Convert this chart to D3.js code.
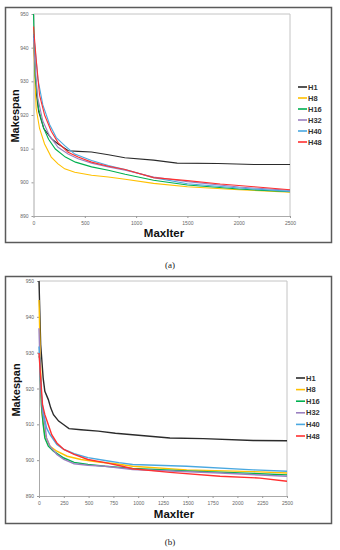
<!DOCTYPE html>
<html>
<head>
<meta charset="utf-8">
<script src="https://cdn.jsdelivr.net/npm/d3@7"></script>
<style>
  body { margin: 0; background: #fff; }
  .tick text { font-family: Arial, "Liberation Sans", sans-serif; font-size: 5px; fill: #666; }
  .tick line { stroke: #999; }
  .domain { stroke: #aaa; }
</style>
</head>
<body>
<div id="chart-area"></div>
<script>
// series names & colours
var names = ["H1", "H8", "H16", "H32", "H40", "H48"];
var colors = ["#2b2b2b", "#ffc000", "#00b050", "#9b80c0", "#4aa8e0", "#ff3030"];

// panel (a): [MaxIter, Makespan]
var aH1 = [[0,944],[25,927],[50,921],[100,916],[175,913],[240,911.4],[340,909.4],[435,909.2],[565,909],[730,908.2],[890,907.3],[1170,906.6],[1400,905.7],[1800,905.6],[2150,905.3],[2500,905.3]];
var aH8 = [[0,942],[26,922],[59,916],[108,911.4],[173,907.5],[239,905.5],[304,904],[402,903],[566,902.1],[729,901.6],[893,900.9],[1170,899.7],[1500,898.7],[2000,897.8],[2500,897.1]];
var aH16 = [[0,950],[16,931.7],[49,922],[98,916.2],[147,912.8],[213,909.9],[311,907.5],[409,906],[566,904.6],[729,903.6],[893,902.4],[1170,900.6],[1500,899.2],[2000,898],[2500,897.2]];
var aH32 = [[0,943],[10,936.6],[42,925],[91,918.2],[157,913.8],[239,910.4],[337,908.4],[435,907],[566,905.7],[729,904.6],[893,903.6],[1170,901.6],[1500,900.2],[2000,898.6],[2500,897.6]];
var aH40 = [[0,944],[10,941.5],[42,930.8],[91,923],[157,917.2],[222,913.3],[304,910.9],[402,908.4],[566,906.5],[729,905],[893,903.8],[1170,901.4],[1500,899.6],[2000,898.3],[2500,897.3]];
var aH48 = [[0,946.3],[26,936.6],[59,925.9],[108,920],[173,915.2],[239,911.8],[337,908.9],[435,907.5],[566,906],[729,904.8],[893,903.8],[1170,901.4],[1500,900.5],[1820,899.5],[2150,898.7],[2500,897.8]];

// panel (b)
var bH1 = [[0,950],[17,932.2],[42,922.9],[59,919.2],[94,916.9],[118,914.6],[146,912.7],[198,910.9],[250,909.9],[302,908.8],[423,908.5],[597,908.1],[770,907.5],[944,907.1],[1320,906.2],[1656,906],[2160,905.5],[2500,905.4]];
var bH8 = [[0,944.7],[14,927.5],[28,913.6],[59,907.1],[111,903.9],[180,902.5],[284,901.1],[423,900.2],[597,899.5],[770,899],[944,898.3],[1489,897.3],[2160,896.8],[2500,896.4]];
var bH16 = [[0,929],[7,928.5],[24,915.5],[42,910],[59,906.2],[94,903.9],[146,902.5],[250,900.6],[354,899.4],[493,898.8],[666,898.3],[944,897.7],[1489,897],[2160,896.3],[2500,895.9]];
var bH32 = [[0,936.8],[14,922.9],[35,913.6],[59,909.9],[76,906.2],[111,903.9],[180,901.6],[250,900.2],[354,899],[493,898.6],[666,898.3],[944,897.4],[1825,896.4],[2500,895.5]];
var bH40 = [[0,931.7],[24,918.3],[42,913.6],[76,909],[111,907.1],[180,904.4],[250,903],[354,901.8],[493,900.7],[666,899.9],[805,899.3],[944,898.8],[1489,898.3],[2160,897.3],[2500,896.9]];
var bH48 = [[0,929.9],[17,922.9],[35,915.5],[59,912.7],[94,909.9],[128,907.1],[180,904.8],[250,903],[354,901.6],[493,900.2],[666,899.3],[840,898.3],[944,897.6],[1320,896.6],[1825,895.5],[2228,895],[2500,894.1]];

var yTicks = [890, 900, 910, 920, 930, 940, 950];
var xTicksA = [0, 500, 1000, 1500, 2000, 2500];
var xTicksB = [0, 250, 500, 750, 1000, 1250, 1500, 1750, 2000, 2250, 2500];

var svg = d3.select("#chart-area").append("svg")
  .attr("width", 340)
  .attr("height", 550);

function drawPanel(p) {
  // outer frame
  svg.append("rect")
    .attr("x", p.box[0]).attr("y", p.box[1])
    .attr("width", p.box[2]).attr("height", p.box[3])
    .attr("fill", "none").attr("stroke", "#5a5a5a").attr("stroke-width", 1.5);

  var x = d3.scaleLinear().domain([0, 2500]).range([p.left, p.right]);
  var y = d3.scaleLinear().domain([890, 950]).range([p.bottom, p.top]);

  // plot area border (top + right)
  svg.append("path")
    .attr("d", "M" + p.left + "," + p.top + "H" + p.right + "V" + p.bottom)
    .attr("fill", "none").attr("stroke", "#c4c4c4").attr("stroke-width", 1);

  svg.append("g")
    .attr("transform", "translate(0," + p.bottom + ")")
    .call(d3.axisBottom(x).tickValues(p.xTicks).tickFormat(d3.format("d"))
      .tickSize(2).tickSizeOuter(0).tickPadding(3));

  svg.append("g")
    .attr("transform", "translate(" + p.left + ",0)")
    .call(d3.axisLeft(y).tickValues(yTicks).tickFormat(d3.format("d"))
      .tickSize(2).tickSizeOuter(0).tickPadding(3));

  var line = d3.line()
    .x(function(d) { return x(d[0]); })
    .y(function(d) { return y(d[1]); });

  p.series.forEach(function(s, i) {
    svg.append("path")
      .datum(s)
      .attr("fill", "none")
      .attr("stroke", colors[i])
      .attr("stroke-width", p.lw)
      .attr("d", line);
  });

  // axis titles
  svg.append("text")
    .attr("x", p.xTitle[0]).attr("y", p.xTitle[1])
    .attr("text-anchor", "middle")
    .attr("font-family", "Arial, 'Liberation Sans', sans-serif")
    .attr("font-weight", "bold").attr("font-size", "11.5px")
    .attr("fill", "#111")
    .text("MaxIter");

  svg.append("text")
    .attr("transform", "translate(" + p.yTitle[0] + "," + p.yTitle[1] + ") rotate(-90)")
    .attr("text-anchor", "middle")
    .attr("font-family", "Arial, 'Liberation Sans', sans-serif")
    .attr("font-weight", "bold").attr("font-size", "11px")
    .attr("fill", "#111")
    .text("Makespan");

  // legend
  var leg = svg.append("g");
  names.forEach(function(n, i) {
    var ly = p.legY + i * p.legStep;
    leg.append("line")
      .attr("x1", p.legX).attr("x2", p.legX + 9)
      .attr("y1", ly).attr("y2", ly)
      .attr("stroke", colors[i]).attr("stroke-width", 1.6);
    leg.append("text")
      .attr("x", p.legX + 10).attr("y", ly + 2.6)
      .attr("font-family", "Arial, 'Liberation Sans', sans-serif")
      .attr("font-size", "7.5px").attr("font-weight", "bold")
      .attr("fill", "#333")
      .text(n);
  });

  // caption
  svg.append("text")
    .attr("x", 170).attr("y", p.capY)
    .attr("text-anchor", "middle")
    .attr("font-family", "'Liberation Serif', 'DejaVu Serif', serif")
    .attr("font-size", "9px")
    .attr("fill", "#222")
    .text(p.caption);
}

drawPanel({
  box: [5.5, 7.5, 326, 235],
  left: 33.5, right: 290, top: 14, bottom: 216,
  xTicks: xTicksA,
  series: [aH1, aH8, aH16, aH32, aH40, aH48],
  lw: 1.1,
  xTitle: [164, 237], yTitle: [19, 116],
  legX: 298, legY: 87, legStep: 11,
  capY: 268, caption: "(a)"
});

drawPanel({
  box: [5.5, 276.5, 326, 247],
  left: 39, right: 287, top: 281, bottom: 496,
  xTicks: xTicksB,
  series: [bH1, bH8, bH16, bH32, bH40, bH48],
  lw: 1.4,
  xTitle: [174, 518], yTitle: [20, 390],
  legX: 296, legY: 378, legStep: 11.6,
  capY: 545, caption: "(b)"
});
</script>
</body>
</html>
